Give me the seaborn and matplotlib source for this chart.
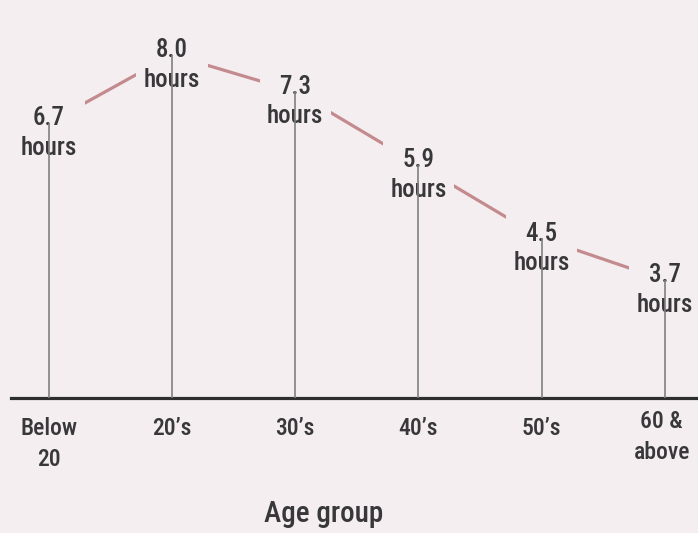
import matplotlib
matplotlib.use("Agg")
import matplotlib.pyplot as plt
from matplotlib.transforms import ScaledTranslation
import seaborn as sns
import pandas as pd

# Average daily hours by age group
age_groups = ["Below\n20", "20\u2019s", "30\u2019s", "40\u2019s", "50\u2019s", "60 &\nabove"]
hours = [6.7, 8.0, 7.3, 5.9, 4.5, 3.7]

df = pd.DataFrame({"age": age_groups, "hours": hours})

BG = "#f4eef0"
LINE = "#c38b8e"
TEXT = "#38383a"
STEM = "#808080"

sns.set_theme(style="white")
plt.rcParams["font.family"] = ["Roboto Condensed", "DejaVu Sans"]

fig = plt.figure(figsize=(6.98, 5.33), dpi=100, facecolor=BG)
ax = fig.add_axes([11 / 698, 135 / 533, 1 - 11 / 698, 398 / 533])
ax.set_facecolor(BG)

# connecting trend line
sns.lineplot(data=df, x="age", y="hours", sort=False, ax=ax,
             color=LINE, linewidth=2.3, zorder=1)

xs = list(range(len(age_groups)))

# value labels with a background patch that breaks the trend line
for x, v in zip(xs, hours):
    ax.annotate(f"{v:.1f}\nhours", xy=(x, v), xytext=(0, 12),
                textcoords="offset points", ha="center", va="top",
                fontsize=18, fontweight="medium", color=TEXT,
                linespacing=1.3, zorder=3,
                bbox=dict(boxstyle="square,pad=0.3", fc=BG, ec="none"))

# thin stems from the baseline up to each value
ax.vlines(xs, 0, hours, color=STEM, linewidth=1.2, zorder=4)

ax.set_xlim(-0.308, 5.27)
ax.set_ylim(1.45, 1.45 + 398 / 52.4)

ax.set_xticks(xs)
ax.set_xticklabels(age_groups, fontsize=17, fontweight="medium", color=TEXT,
                   linespacing=1.4)
ax.tick_params(axis="x", length=0, pad=14)
ax.set_yticks([])
ax.set_xlabel("")
ax.set_ylabel("")

# the last category label sits a little higher and tucked to the left
last = ax.get_xticklabels()[-1]
last.set_transform(last.get_transform()
                   + ScaledTranslation(-3 / 100, 7 / 100, fig.dpi_scale_trans))

for side in ["top", "right", "left"]:
    ax.spines[side].set_visible(False)
ax.spines["bottom"].set_color("#2e2e2e")
ax.spines["bottom"].set_linewidth(2.3)

fig.text(324 / 698, 1 - 514 / 533, "Age group", ha="center", va="center",
         fontsize=21, fontweight="medium", color=TEXT)

fig.savefig("out.png", dpi=100, facecolor=BG)
